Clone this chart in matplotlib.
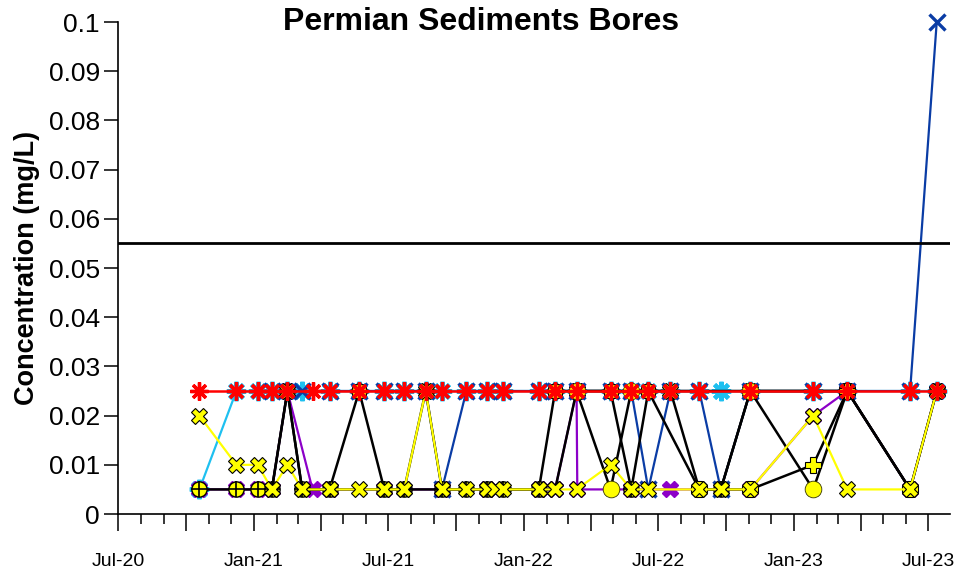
import numpy as np
import pandas as pd
import matplotlib
matplotlib.use("Agg")
import matplotlib.pyplot as plt
import matplotlib.dates as mdates
from matplotlib.ticker import FuncFormatter, MultipleLocator

plt.rcParams['font.family'] = ['Liberation Sans', 'DejaVu Sans']

# Sampling data per bore (date, concentration mg/L)
red_dates = ["2020-10-19", "2020-12-08", "2021-01-06", "2021-01-25", "2021-02-15", "2021-03-21",
             "2021-04-13", "2021-05-23", "2021-06-26", "2021-07-23", "2021-08-21", "2021-09-12",
             "2021-10-15", "2021-11-12", "2021-12-04", "2022-01-21", "2022-02-12", "2022-03-13",
             "2022-04-28", "2022-05-26", "2022-06-18", "2022-07-18", "2022-08-26", "2022-11-03",
             "2023-01-27", "2023-03-14", "2023-06-07", "2023-07-13"]
red_vals = [0.025] * len(red_dates)

cyan_dates = ["2020-10-19", "2020-12-08", "2021-01-06", "2021-01-25", "2021-02-15", "2021-03-07",
              "2021-04-13", "2021-05-23", "2021-06-26", "2021-07-23", "2021-08-21", "2021-09-12",
              "2021-10-15", "2021-11-12", "2021-12-04", "2022-01-21", "2022-02-12", "2022-03-13",
              "2022-04-28", "2022-05-26", "2022-06-18", "2022-07-18", "2022-08-26", "2022-09-24",
              "2022-11-03", "2023-01-27", "2023-03-14", "2023-06-07", "2023-07-13"]
cyan_vals = [0.005] + [0.025] * 28

blue_dates = ["2021-01-25", "2021-03-07", "2021-04-13", "2021-05-23", "2021-06-26", "2021-07-23",
              "2021-08-21", "2021-09-12", "2021-10-15", "2021-11-12", "2021-12-04", "2022-01-21",
              "2022-02-12", "2022-03-13", "2022-04-28", "2022-05-26", "2022-06-18", "2022-07-18",
              "2022-08-26", "2022-09-24", "2022-11-03", "2023-01-27", "2023-03-14", "2023-06-07",
              "2023-07-13"]
blue_vals = [0.025, 0.025, 0.025, 0.025, 0.025, 0.025, 0.025, 0.005, 0.025, 0.025, 0.025, 0.025,
             0.025, 0.025, 0.025, 0.025, 0.005, 0.025, 0.025, 0.005, 0.025, 0.025, 0.025, 0.025, 0.1]

purple_dates = ["2020-10-19", "2020-12-08", "2021-01-06", "2021-01-25", "2021-02-15", "2021-03-21",
                "2021-04-13", "2021-06-26", "2021-09-12", "2021-11-12", "2022-01-21", "2022-02-12",
                "2022-03-13", "2022-03-14", "2022-05-26", "2022-07-18", "2022-11-03", "2023-01-27",
                "2023-03-14", "2023-06-07", "2023-07-13"]
purple_vals = [0.005, 0.005, 0.005, 0.005, 0.025, 0.005, 0.005, 0.005, 0.005, 0.005, 0.005, 0.005,
               0.025, 0.005, 0.005, 0.005, 0.005, 0.02, 0.025, 0.005, 0.025]

k1_dates = ["2020-10-19", "2020-12-08", "2021-01-06", "2021-01-25", "2021-02-15", "2021-03-07",
            "2021-04-13", "2021-05-23", "2021-06-26", "2021-07-23", "2021-08-21", "2021-09-12",
            "2021-10-15", "2021-11-12", "2021-12-04", "2022-01-21", "2022-02-12", "2022-04-28",
            "2022-05-26", "2022-06-18", "2022-08-26", "2022-09-24", "2022-11-03", "2023-03-14",
            "2023-06-07", "2023-07-13"]
k1_vals = [0.005, 0.005, 0.005, 0.005, 0.025, 0.005, 0.005, 0.025, 0.005, 0.005, 0.025, 0.005,
           0.005, 0.005, 0.005, 0.005, 0.025, 0.025, 0.005, 0.025, 0.005, 0.005, 0.025, 0.025,
           0.005, 0.025]

k2_dates = ["2021-01-25", "2021-02-15", "2021-03-07", "2021-04-13", "2021-06-26", "2021-07-23",
            "2021-09-12", "2021-11-12", "2022-01-21", "2022-02-12", "2022-03-13", "2022-07-18",
            "2022-08-26", "2022-09-24", "2022-11-03", "2023-03-14", "2023-06-07", "2023-07-13"]
k2_vals = [0.005, 0.025, 0.005, 0.005, 0.005, 0.005, 0.005, 0.005, 0.005, 0.005, 0.025, 0.025,
           0.005, 0.005, 0.025, 0.025, 0.005, 0.025]

k3_dates = ["2022-03-13", "2022-04-28", "2022-05-26", "2022-11-03", "2023-01-27", "2023-03-14"]
k3_vals = [0.025, 0.005, 0.025, 0.025, 0.005, 0.025]

k4_dates = ["2022-08-26", "2022-11-03", "2023-01-27", "2023-03-14", "2023-06-07"]
k4_vals = [0.005, 0.005, 0.01, 0.025, 0.005]

yel_dates = ["2020-10-19", "2020-12-08", "2021-01-06", "2021-01-25", "2021-02-15", "2021-03-07",
             "2021-04-13", "2021-05-23", "2021-06-26", "2021-07-23", "2021-08-21", "2021-09-12",
             "2021-10-15", "2021-11-12", "2021-11-23", "2021-12-04", "2022-01-21", "2022-02-12",
             "2022-03-13", "2022-04-28", "2022-05-26", "2022-06-18", "2022-08-26", "2022-09-24",
             "2022-11-03", "2023-01-27", "2023-03-14", "2023-06-07", "2023-07-13"]
yel_vals = [0.02, 0.01, 0.01, 0.005, 0.01, 0.005, 0.005, 0.005, 0.005, 0.005, 0.025, 0.005,
            0.005, 0.005, 0.005, 0.005, 0.005, 0.005, 0.005, 0.01, 0.005, 0.005, 0.005, 0.005,
            0.005, 0.02, 0.005, 0.005, 0.025]

guideline = 0.055

d = pd.to_datetime

fig = plt.figure(figsize=(9.55, 5.76), dpi=100)
ax = fig.add_axes([0.1236, 0.1076, 0.8712, 0.8542])

yel = '#FFFF00'
ast = (8, 2, 0)

ax.plot(d(cyan_dates), cyan_vals, color='#1EC0F0', lw=1.6, marker=ast, ms=14, mew=3.0,
        mec='#1EC0F0', clip_on=False)
ax.plot(d(blue_dates), blue_vals, color='#0A3CA5', lw=1.6, marker='x', ms=11, mew=2.4,
        clip_on=False)
ax.plot(d(purple_dates), purple_vals, color='#8C00C8', lw=1.6, marker='X', ms=11,
        mfc='#8C00C8', mec='#8C00C8', clip_on=False)
ax.plot(d(k1_dates), k1_vals, color='black', lw=1.8, marker='o', ms=11, mfc=yel, mec='black',
        mew=1, clip_on=False)
ax.plot(d(k1_dates), k1_vals, ls='none', marker='+', ms=11, mec='black', mew=1.2, clip_on=False)
ax.plot(d(k2_dates), k2_vals, color='black', lw=1.8, marker='X', ms=12, mfc=yel, mec='black',
        mew=0.8, clip_on=False)
ax.plot(d(k3_dates), k3_vals, color='black', lw=1.8, marker='o', ms=12, mfc=yel, mec='#333300',
        mew=0.6, clip_on=False)
ax.plot(d(k4_dates), k4_vals, color='black', lw=1.8, marker='P', ms=12, mfc=yel, mec='black',
        mew=0.8, clip_on=False)
ax.plot(d(yel_dates), yel_vals, color=yel, lw=1.6, marker='X', ms=12, mfc=yel, mec='black',
        mew=0.8, clip_on=False)
ax.plot(d(red_dates), red_vals, color='#FF0000', lw=1.8, marker=ast, ms=13, mew=2.4,
        mec='#FF0000', clip_on=False)

ax.axhline(guideline, color='black', lw=2)

ax.set_xlim(d("2020-07-01"), d("2023-07-31"))
ax.set_ylim(0, 0.1)

for s in ['top', 'right']:
    ax.spines[s].set_visible(False)
for s in ['left', 'bottom']:
    ax.spines[s].set_linewidth(1.2)

ax.xaxis.set_major_locator(mdates.MonthLocator(bymonth=[1, 4, 7, 10]))
ax.xaxis.set_minor_locator(mdates.MonthLocator())


def fmt_date(x, pos):
    dt = mdates.num2date(x)
    return dt.strftime('%b-%y') if dt.month in (1, 7) else ''


ax.xaxis.set_major_formatter(FuncFormatter(fmt_date))
ax.tick_params(axis='x', which='major', direction='out', length=12, width=1.1, pad=16,
               labelsize=14)
ax.tick_params(axis='x', which='minor', direction='out', length=7, width=1.1)

ax.yaxis.set_major_locator(MultipleLocator(0.01))
ax.yaxis.set_major_formatter(FuncFormatter(lambda v, p: '%g' % round(v, 3)))
ax.tick_params(axis='y', direction='out', length=10, width=1.1, labelsize=19, pad=3)

ax.set_ylabel("Concentration (mg/L)", fontsize=19.5, fontweight='bold', labelpad=6)
fig.text(0.504, 0.962, "Permian Sediments Bores", ha='center', va='center', fontsize=23,
         fontweight='bold')

fig.savefig("out.png", dpi=100)
